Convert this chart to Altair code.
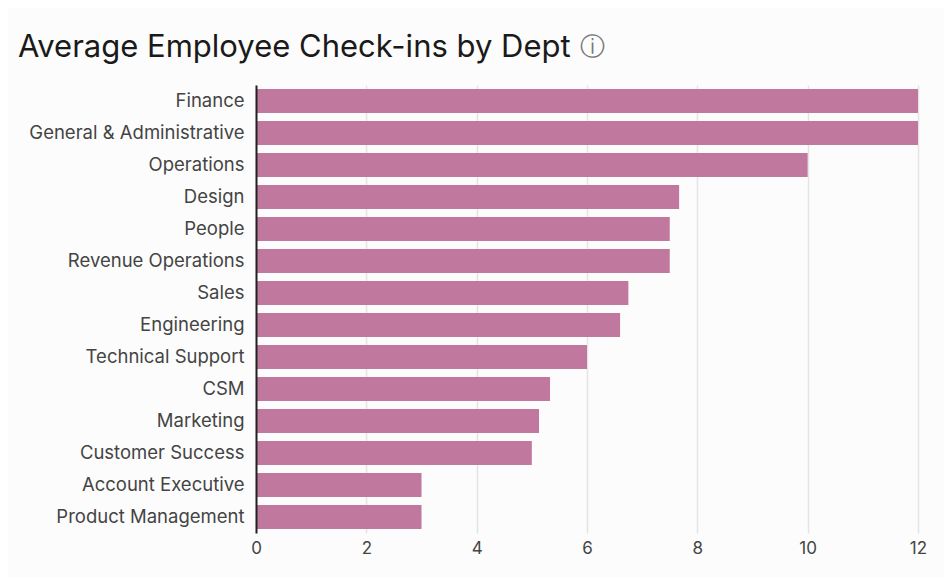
import altair as alt
import pandas as pd

depts = ["Finance","General & Administrative","Operations","Design","People","Revenue Operations","Sales","Engineering","Technical Support","CSM","Marketing","Customer Success","Account Executive","Product Management"]
vals = [12,12,10,7.67,7.5,7.5,6.75,6.6,6,5.33,5.13,5,3,3]
ticks = [0,2,4,6,8,10,12]
title = ["Average Employee Check-ins by Dept"]
info = ["ⓘ"]
df = pd.DataFrame({"d":depts,"v":vals})
FONT = "Inter"

bars = alt.Chart(df).mark_bar(color="#C0789F", size=24).encode(
    x=alt.X("v:Q", scale=alt.Scale(domain=[0,12], nice=False),
            axis=alt.Axis(values=ticks, title=None, grid=True, gridColor="#E4E4E4", gridWidth=1.5,
                          domain=False, ticks=False, labelFont=FONT, labelFontSize=17, labelColor="#444444",
                          labelPadding=7, format="d", labelFlush=False)),
    y=alt.Y("d:N", sort=depts, scale=alt.Scale(paddingInner=0.25, paddingOuter=0.125),
            axis=alt.Axis(title=None, grid=False, domain=True, domainColor="#222222", domainWidth=2,
                          ticks=False, labelFont=FONT, labelFontSize=18.5, labelColor="#444444",
                          labelPadding=12, labelLimit=300, zindex=1)),
)
icon = alt.Chart(pd.DataFrame({"t":info})).mark_text(fontSize=25, color="#777777", align="center", baseline="middle", font="DejaVu Sans").encode(
    text="t:N", x=alt.value(336), y=alt.value(-38))
head = alt.Chart(pd.DataFrame({"t":title})).mark_text(fontSize=31, color="#1A1A1A", align="left", baseline="alphabetic", font=FONT, fontWeight="normal").encode(
    text="t:N", x=alt.value(-238), y=alt.value(-28))
chart = alt.layer(bars, icon, head).properties(width=662, height=448,
    autosize=alt.AutoSizeParams(type="none"),
    padding={"left":248,"top":77,"right":26,"bottom":44},
    background="#FCFCFC",
).configure_view(stroke=None)
chart.save("out.html", embed_options={"renderer":"svg","actions":False})
